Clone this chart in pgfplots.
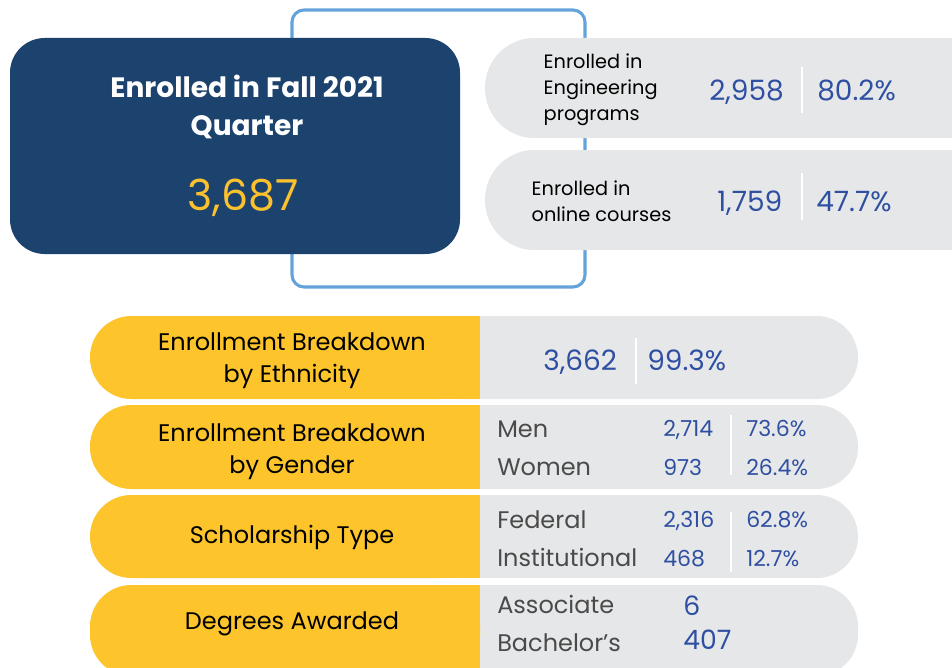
\documentclass[border=0pt]{standalone}
\usepackage{fontspec}
\setmainfont{Poppins}
\usepackage{pgfplots}
\pgfplotsset{compat=1.18}
\usepackage{pgfplotstable}
\definecolor{cNavy}{HTML}{1C426E}
\definecolor{cGold}{HTML}{FCC12E}
\definecolor{cYel}{HTML}{FDC52B}
\definecolor{cSky}{HTML}{63A3DA}
\definecolor{cPill}{HTML}{E6E7E8}
\definecolor{cNum}{HTML}{2F4FA2}
\definecolor{cTxt}{HTML}{4A4A4A}

% values: x = left edge, y = baseline (pixels, top down)
\pgfplotstableread{
x   y   v
709 100 2,958
817 100 80.2\%
717 211 1,759
816 211 47.7\%
543 370 3,662
647 370 99.3\%
}\bignums
\pgfplotstableread{
x   y   v
663 436 2,714
663 475 973
746 436 73.6\%
746 475 26.4\%
663 527 2,316
663 566 468
746 527 62.8\%
746 566 12.7\%
}\smallnums
\pgfplotstableread{
x   y   v
683 615 6
683 649 407
}\degnums

\newcommand\rowband[2]{%
  \fill[cPill, rounded corners=31pt] (420,#1) rectangle (858,#2);
  \fill[cYel, rounded corners=31pt] (90,#1) rectangle (480,#2);
  \fill[cYel] (440,#1) rectangle (480,#2);}

\begin{document}
\begin{tikzpicture}
\begin{axis}[
  name=ax, scale only axis, width=714pt, height=500.25pt,
  xmin=0, xmax=952, ymin=0, ymax=667, y dir=reverse,
  axis lines=none, clip=true,
  nodes near coords, point meta=explicit symbolic,
  nodes near coords align={horizontal},
]
% top panel
\draw[cSky, line width=2.3pt, rounded corners=9pt] (292,10) rectangle (585,287);
\fill[cNavy, rounded corners=26pt] (10,38) rectangle (460,254);
\fill[cPill, rounded corners=37pt] (485,38) rectangle (1020,138);
\fill[cPill, rounded corners=37pt] (485,150) rectangle (1020,250);
\draw[white, line width=1.5pt] (802,67) -- (802,113);
\draw[white, line width=1.5pt] (802,173) -- (802,220);

\node[white, align=center, font=\bfseries\fontsize{21}{28.5}\selectfont] at (247,107) {Enrolled in Fall 2021\\Quarter};
\node[cGold, anchor=base, font=\fontsize{32}{32}\selectfont] at (243,210) {3,687};
\node[black, anchor=west, align=left, font=\fontsize{14.5}{19.5}\selectfont] at (539,90) {Enrolled in\\Engineering\\programs};
\node[black, anchor=west, align=left, font=\fontsize{14.5}{19.5}\selectfont] at (527,201) {Enrolled in\\online courses};

% bottom rows
\rowband{316}{399}
\rowband{405}{489}
\rowband{495}{578}
\rowband{585}{676}
\draw[white, line width=1.5pt] (636,338) -- (636,384);
\draw[white, line width=1.5pt] (731,415) -- (731,475);
\draw[white, line width=1.5pt] (731,512) -- (731,572);

\node[black, align=center, font=\fontsize{18}{24}\selectfont] at (292,361) {Enrollment Breakdown\\by Ethnicity};
\node[black, align=center, font=\fontsize{18}{24}\selectfont] at (292,452) {Enrollment Breakdown\\by Gender};
\node[black, font=\fontsize{18}{24}\selectfont] at (292,537) {Scholarship Type};
\node[black, font=\fontsize{18}{24}\selectfont] at (292,624) {Degrees Awarded};

\node[cTxt, anchor=base west, inner sep=0pt, font=\fontsize{18}{20}\selectfont] at (497,437) {Men};
\node[cTxt, anchor=base west, inner sep=0pt, font=\fontsize{18}{20}\selectfont] at (497,475) {Women};
\node[cTxt, anchor=base west, inner sep=0pt, font=\fontsize{18}{20}\selectfont] at (497,528) {Federal};
\node[cTxt, anchor=base west, inner sep=0pt, font=\fontsize{18}{20}\selectfont] at (497,566) {Institutional};
\node[cTxt, anchor=base west, inner sep=0pt, font=\fontsize{18}{20}\selectfont] at (497,613) {Associate};
\node[cTxt, anchor=base west, inner sep=0pt, font=\fontsize{18}{20}\selectfont] at (497,651) {Bachelor’s};

% values
\addplot[only marks, mark=none, nodes near coords style={cNum, anchor=base west, inner sep=0pt, font=\fontsize{21}{21}\selectfont}]
  table[x=x, y=y, meta=v] {\bignums};
\addplot[only marks, mark=none, nodes near coords style={cNum, anchor=base west, inner sep=0pt, font=\fontsize{16.5}{16.5}\selectfont}]
  table[x=x, y=y, meta=v] {\smallnums};
\addplot[only marks, mark=none, nodes near coords style={cNum, anchor=base west, inner sep=0pt, font=\fontsize{20}{20}\selectfont}]
  table[x=x, y=y, meta=v] {\degnums};
\end{axis}
\pgfresetboundingbox
\path (ax.south west) rectangle (ax.north east);
\end{tikzpicture}
\end{document}
